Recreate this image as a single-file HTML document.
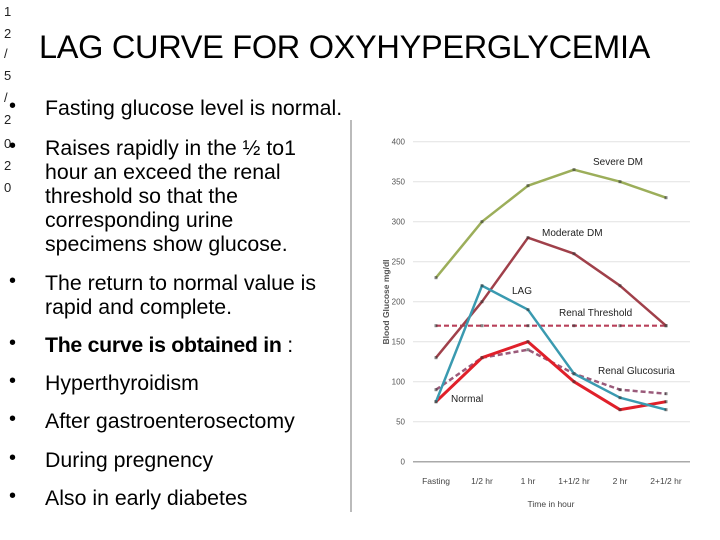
<!DOCTYPE html>
<html><head><meta charset="utf-8">
<style>
html,body{margin:0;padding:0;background:#fff;}
body{width:720px;height:540px;position:relative;overflow:hidden;font-family:"Liberation Sans",sans-serif;color:#000;}
.t{position:absolute;white-space:nowrap;font-size:21.3px;letter-spacing:0px;line-height:24px;}
.b{position:absolute;font-size:20px;left:9px;}
.d{position:absolute;left:4px;font-size:13px;color:#222;}
</style></head>
<body>
<div>
<div class="d" style="top:4px">1</div><div class="d" style="top:26px">2</div><div class="d" style="top:46px">/</div><div class="d" style="top:68px">5</div><div class="d" style="top:90px">/</div><div class="d" style="top:112px">2</div><div class="d" style="top:136px">0</div><div class="d" style="top:158px">2</div><div class="d" style="top:180px">0</div>
</div>
<div style="position:absolute;left:39px;top:29px;font-size:32.5px;letter-spacing:-0.3px;white-space:nowrap;">LAG CURVE FOR OXYHYPERGLYCEMIA</div>
<div>
<div class="b" style="top:95px">•</div><div class="t" style="left:45px;top:96px">Fasting glucose level is normal.</div>
<div class="b" style="top:135px">•</div>
<div class="t" style="left:45px;top:136px">Raises rapidly in the ½ to1</div>
<div class="t" style="left:45px;top:160px">hour an exceed the renal</div>
<div class="t" style="left:45px;top:184px">threshold so that the</div>
<div class="t" style="left:45px;top:208px">corresponding urine</div>
<div class="t" style="left:45px;top:232px">specimens show glucose.</div>
<div class="b" style="top:270px">•</div>
<div class="t" style="left:45px;top:271px">The return to normal value is</div>
<div class="t" style="left:45px;top:295px">rapid and complete.</div>
<div class="b" style="top:332px">•</div><div class="t" style="left:45px;top:333px;font-weight:bold;letter-spacing:-0.3px">The curve is obtained in <span style="font-weight:normal">:</span></div>
<div class="b" style="top:370px">•</div><div class="t" style="left:45px;top:371px">Hyperthyroidism</div>
<div class="b" style="top:408px">•</div><div class="t" style="left:45px;top:409px">After gastroenterosectomy</div>
<div class="b" style="top:447px">•</div><div class="t" style="left:45px;top:448px">During pregnency</div>
<div class="b" style="top:485px">•</div><div class="t" style="left:45px;top:486px">Also in early diabetes</div>
</div>
<svg id="chart" width="720" height="540" style="position:absolute;left:0;top:0" xmlns="http://www.w3.org/2000/svg"></svg>
<script>
const categories=["Fasting","1/2 hr","1 hr","1+1/2 hr","2 hr","2+1/2 hr"];
const yTicks=[0,50,100,150,200,250,300,350,400];
const severeDM=[230,300,345,365,350,330];
const moderateDM=[130,200,280,260,220,170];
const lag=[75,220,190,110,80,65];
const normal=[75,130,150,100,65,75];
const glucosuria=[90,130,140,110,90,85];
const renalThreshold=[170,170,170,170,170,170];

const svg=document.getElementById('chart');
const NS="http://www.w3.org/2000/svg";
const X0=436,DX=46,Y0=461.7,YS=0.8;
function xs(i){return X0+i*DX;}
function ys(v){return Y0-v*YS;}
function mk(tag,attrs,name){const e=document.createElementNS(NS,tag);for(const k in attrs)e.setAttribute(k,attrs[k]);


svg.appendChild(e);return e;}
function txt(x,y,s,name,opts){const e=mk('text',Object.assign({x:x,y:y,'font-family':'"Liberation Sans",sans-serif','font-size':9,fill:'#333'},opts||{}),name);e.textContent=s;return e;}

mk('line',{x1:351,y1:120,x2:351,y2:512,stroke:'#bbb','stroke-width':2},'divider-line');
yTicks.forEach(v=>{
  mk('line',{x1:413,y1:ys(v),x2:690,y2:ys(v),stroke:v===0?'#aaa':'#e2e2e2','stroke-width':v===0?1.5:1},'gridline-'+v);
  txt(405,ys(v)+3,String(v),'y-tick-'+v,{'text-anchor':'end','font-size':8,fill:'#555'});
});
categories.forEach((c,i)=>txt(xs(i),484,c,'x-tick-'+i,{'text-anchor':'middle','font-size':8.5,fill:'#444'}));
txt(551,507,'Time in hour','x-axis-title',{'text-anchor':'middle','font-size':8.5,fill:'#444'});
txt(0,0,'Blood  Glucose  mg/dl','y-axis-title',{'text-anchor':'middle','font-size':8.5,'font-weight':'bold',fill:'#555',transform:'translate(389,302) rotate(-90)'});

function series(arr,color,name,dash,w){
  const pts=arr.map((v,i)=>xs(i)+','+ys(v)).join(' ');
  mk('polyline',{points:pts,fill:'none',stroke:color,'stroke-width':w||2.5,'stroke-dasharray':dash||'none','stroke-linejoin':'round'},name);
  arr.forEach((v,i)=>mk('rect',{x:xs(i)-1.5,y:ys(v)-1.5,width:3,height:3,fill:'#333',opacity:0.6},name+'-point-'+i));
}
series(renalThreshold,'#b8405a','renal-threshold-line','5,3',2.2);
series(severeDM,'#9cae5a','severe-dm-line');
series(moderateDM,'#a0404a','moderate-dm-line');
series(glucosuria,'#9a5a7a','renal-glucosuria-line','5,3',2.5);
series(normal,'#e0202a','normal-line',null,3);
series(lag,'#3a9ab0','lag-line');

const lab={'font-size':10,fill:'#222','font-family':'"Liberation Sans Narrow","Liberation Sans",sans-serif'};
txt(593,165,'Severe DM','label-severe-dm',lab);
txt(542,236,'Moderate DM','label-moderate-dm',lab);
txt(512,294,'LAG','label-lag',lab);
txt(559,316,'Renal Threshold','label-renal-threshold',lab);
txt(598,374,'Renal Glucosuria','label-renal-glucosuria',lab);
txt(451,402,'Normal','label-normal',lab);
</script>
</body></html>
